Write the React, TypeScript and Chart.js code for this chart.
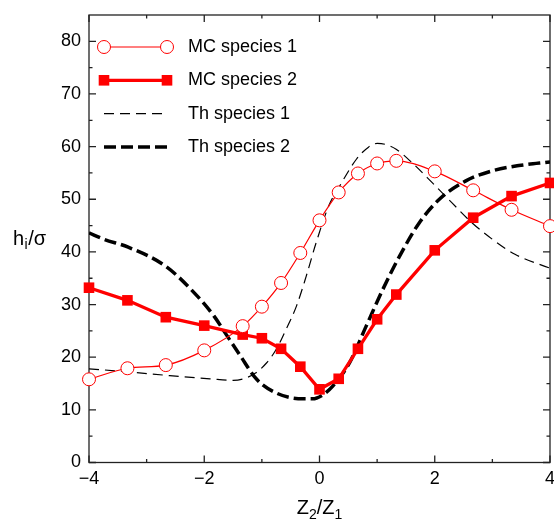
import React, { useEffect, useRef } from "react";
import { Chart, registerables } from "chart.js";

Chart.register(...registerables);

// ---- data ----
const mcX = [-4, -3.333, -2.667, -2, -1.333, -1, -0.667, -0.333, 0, 0.333, 0.667, 1, 1.333, 2, 2.667, 3.333, 4];
const mc1Y = [15.8, 17.9, 18.5, 21.3, 25.9, 29.6, 34.1, 39.8, 46.0, 51.3, 54.9, 56.8, 57.3, 55.3, 51.7, 48.0, 44.9];
const mc2Y = [33.2, 30.8, 27.6, 26.0, 24.3, 23.6, 21.6, 18.2, 13.9, 15.9, 21.6, 27.2, 31.9, 40.3, 46.5, 50.6, 53.1];

const th1X = [-4, -3.3, -2.6, -1.9, -1.5, -1.32, -1.11, -0.92, -0.75, -0.58, -0.4, -0.23, -0.06, 0.17, 0.35, 0.64, 0.85, 1.0, 1.15, 1.33, 1.61, 1.96, 2.3, 2.65, 3.0, 3.4, 4.0];
const th1Y = [17.8, 17.2, 16.5, 15.9, 15.6, 15.9, 17.0, 18.9, 21.5, 25.3, 29.7, 35.4, 41.7, 49.0, 52.5, 57.6, 59.9, 60.6, 60.4, 59.5, 56.9, 53.1, 49.3, 45.5, 42.4, 39.5, 36.9];

const th2X = [-4, -3.74, -3.32, -2.66, -2.12, -1.83, -1.6, -1.37, -1.09, -0.75, -0.29, -0.12, 0.05, 0.23, 0.52, 0.81, 1.1, 1.39, 1.73, 2.08, 2.54, 3.0, 3.46, 4.0];
const th2Y = [43.6, 42.4, 40.9, 37.2, 31.6, 27.8, 24.0, 20.2, 15.8, 13.2, 12.1, 12.1, 12.8, 14.5, 18.9, 25.9, 32.9, 39.2, 45.5, 50.0, 53.5, 55.4, 56.4, 57.1];

const seriesLabels = ["MC species 1", "MC species 2", "Th species 1", "Th species 2"];

const xTicks = [-4, -2, 0, 2, 4];
const xMinorTicks = [-3, -1, 1, 3];
const yTicks = [0, 10, 20, 30, 40, 50, 60, 70, 80];
const yMinorTicks = [5, 15, 25, 35, 45, 55, 65, 75];

const yTitleParts = ["h", "i", "/\u03c3"];
const xTitleParts = ["Z", "2", "/Z", "1"];

const FONT = "'Liberation Sans', Arial, Helvetica, sans-serif";
const RED = "#ff0000";

const pts = (xs: number[], ys: number[]) => xs.map((x, i) => ({ x, y: ys[i] }));

const framePlugin = {
  id: "frameTicks",
  beforeDatasetsDraw(chart: any) {
    const { ctx, chartArea } = chart;
    const { left, right, top, bottom } = chartArea;
    const xs = chart.scales.x;
    const ys = chart.scales.y;
    ctx.save();
    ctx.strokeStyle = "#222";
    ctx.lineWidth = 1.3;
    ctx.strokeRect(left, top, right - left, bottom - top);
    ctx.beginPath();
    const maj = 7;
    const min = 3.5;
    xTicks.forEach((v) => {
      const p = xs.getPixelForValue(v);
      ctx.moveTo(p, bottom); ctx.lineTo(p, bottom - maj);
      ctx.moveTo(p, top); ctx.lineTo(p, top + maj);
    });
    xMinorTicks.forEach((v) => {
      const p = xs.getPixelForValue(v);
      ctx.moveTo(p, bottom); ctx.lineTo(p, bottom - min);
      ctx.moveTo(p, top); ctx.lineTo(p, top + min);
    });
    yTicks.forEach((v) => {
      const p = ys.getPixelForValue(v);
      ctx.moveTo(left, p); ctx.lineTo(left + maj, p);
      ctx.moveTo(right, p); ctx.lineTo(right - maj, p);
    });
    yMinorTicks.forEach((v) => {
      const p = ys.getPixelForValue(v);
      ctx.moveTo(left, p); ctx.lineTo(left + min, p);
      ctx.moveTo(right, p); ctx.lineTo(right - min, p);
    });
    ctx.stroke();
    ctx.restore();
  },
};

const legendPlugin = {
  id: "insideLegend",
  afterDatasetsDraw(chart: any) {
    const { ctx } = chart;
    const x0 = 104;
    const x1 = 167;
    const tx = 188;
    const y0 = 47;
    const step = 33.3;
    ctx.save();
    chart.data.datasets.forEach((ds: any, i: number) => {
      const y = y0 + i * step;
      ctx.beginPath();
      ctx.strokeStyle = ds.borderColor;
      ctx.lineWidth = ds.borderWidth;
      ctx.setLineDash(ds.borderDash || []);
      ctx.moveTo(x0, y);
      ctx.lineTo(x1, y);
      ctx.stroke();
      ctx.setLineDash([]);
      if (ds.pointRadius > 0) {
        [x0, x1].forEach((px) => {
          if (ds.pointStyle === "circle") {
            ctx.beginPath();
            ctx.arc(px, y, ds.pointRadius, 0, Math.PI * 2);
            ctx.fillStyle = ds.pointBackgroundColor;
            ctx.fill();
            ctx.lineWidth = ds.pointBorderWidth;
            ctx.strokeStyle = ds.pointBorderColor;
            ctx.stroke();
          } else {
            const s = ds.pointRadius * Math.SQRT1_2;
            ctx.fillStyle = ds.pointBackgroundColor;
            ctx.fillRect(px - s, y - s, 2 * s, 2 * s);
          }
        });
      }
      ctx.fillStyle = "#000";
      ctx.font = `18px ${FONT}`;
      ctx.textBaseline = "middle";
      ctx.textAlign = "left";
      ctx.fillText(ds.label, tx, y);
    });
    ctx.restore();
  },
};

const titlePlugin = {
  id: "axisTitles",
  afterDraw(chart: any) {
    const { ctx, chartArea } = chart;
    ctx.save();
    ctx.fillStyle = "#000";
    ctx.textBaseline = "alphabetic";
    ctx.textAlign = "left";
    const big = `20px ${FONT}`;
    const small = `14px ${FONT}`;
    let x = 13;
    const yb = 245;
    ctx.font = big;
    ctx.fillText(yTitleParts[0], x, yb);
    x += ctx.measureText(yTitleParts[0]).width;
    ctx.font = small;
    ctx.fillText(yTitleParts[1], x + 0.5, yb + 4);
    x += ctx.measureText(yTitleParts[1]).width + 1;
    ctx.font = big;
    ctx.fillText(yTitleParts[2], x, yb);
    const fonts = [big, small, big, small];
    const offs = [0, 5, 0, 5];
    const widths = xTitleParts.map((t, i) => {
      ctx.font = fonts[i];
      return ctx.measureText(t).width;
    });
    const total = widths.reduce((a, b) => a + b, 0);
    const cx = (chartArea.left + chartArea.right) / 2;
    let px = cx - total / 2;
    const xb = 514;
    xTitleParts.forEach((t, i) => {
      ctx.font = fonts[i];
      ctx.fillText(t, px, xb + offs[i]);
      px += widths[i];
    });
    ctx.restore();
  },
};

export default function App() {
  const ref = useRef<HTMLCanvasElement | null>(null);
  useEffect(() => {
    if (!ref.current) return;
    const chart = new Chart(ref.current, {
      type: "line",
      data: {
        datasets: [
          {
            label: seriesLabels[0],
            data: pts(mcX, mc1Y),
            borderColor: RED,
            borderWidth: 1.2,
            pointStyle: "circle",
            pointRadius: 6.5,
            pointBorderWidth: 1,
            pointBorderColor: RED,
            pointBackgroundColor: "#ffffff",
            cubicInterpolationMode: "monotone",
            clip: false,
          },
          {
            label: seriesLabels[1],
            data: pts(mcX, mc2Y),
            borderColor: RED,
            borderWidth: 3.3,
            pointStyle: "rect",
            pointRadius: 7.5,
            pointBorderWidth: 0,
            pointBorderColor: RED,
            pointBackgroundColor: RED,
            tension: 0,
            clip: false,
          },
          {
            label: seriesLabels[2],
            data: pts(th1X, th1Y),
            borderColor: "#000000",
            borderWidth: 1.2,
            borderDash: [10, 6],
            pointRadius: 0,
            cubicInterpolationMode: "monotone",
          },
          {
            label: seriesLabels[3],
            data: pts(th2X, th2Y),
            borderColor: "#000000",
            borderWidth: 3.5,
            borderDash: [12, 5],
            pointRadius: 0,
            cubicInterpolationMode: "monotone",
          },
        ],
      } as any,
      options: {
        animation: false,
        responsive: false,
        events: [],
        layout: { autoPadding: false, padding: { left: 0, right: 4, top: 15, bottom: 0 } },
        plugins: { legend: { display: false }, tooltip: { enabled: false } },
        scales: {
          x: {
            type: "linear",
            min: -4,
            max: 4,
            afterBuildTicks: (s: any) => {
              s.ticks = xTicks.map((v) => ({ value: v }));
            },
            afterFit: (s: any) => {
              s.height = 58.5;
              s.paddingLeft = 0;
              s.paddingRight = 0;
            },
            grid: { display: false, drawTicks: false },
            border: { display: false },
            ticks: {
              padding: 6,
              color: "#000",
              maxRotation: 0,
              autoSkip: false,
              font: { family: FONT, size: 18 },
              callback: (v: any) => String(v).replace("-", "\u2212"),
            },
          },
          y: {
            type: "linear",
            min: 0,
            max: 85,
            afterBuildTicks: (s: any) => {
              s.ticks = yTicks.map((v) => ({ value: v }));
            },
            afterFit: (s: any) => {
              s.width = 89;
              s.paddingTop = 0;
              s.paddingBottom = 0;
            },
            grid: { display: false, drawTicks: false },
            border: { display: false },
            ticks: {
              padding: 8,
              color: "#000",
              autoSkip: false,
              font: { family: FONT, size: 18 },
            },
          },
        },
      } as any,
      plugins: [framePlugin, legendPlugin, titlePlugin],
    });
    return () => chart.destroy();
  }, []);
  return (
    <div style={{ position: "absolute", left: 0, top: 0, width: 554, height: 521, background: "#fff" }}>
      <canvas ref={ref} width={554} height={521} style={{ display: "block" }} />
    </div>
  );
}
